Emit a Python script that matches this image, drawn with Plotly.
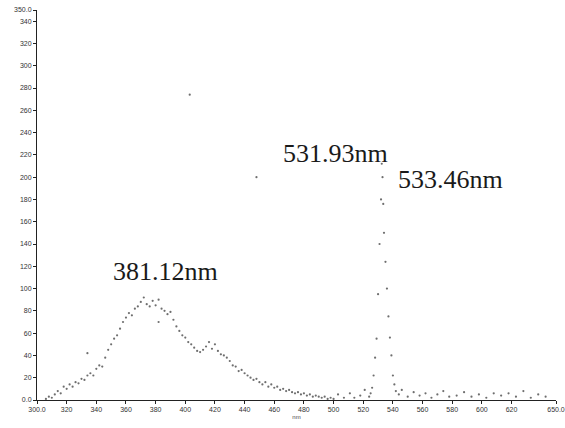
import plotly.graph_objects as go

# Broad emission hump (nm, intensity)
hump_nm = [306, 308, 310, 312, 314, 316, 318, 320, 322, 324, 326, 328, 330, 332, 334, 334, 336, 338,
           340, 342, 344, 346, 348, 350, 352, 354, 356, 358, 360, 362, 364, 366, 368, 370, 372, 374,
           376, 378, 380, 382, 382, 384, 386, 388, 390, 392, 394, 396, 398, 400, 402, 404, 406, 408,
           410, 412, 414, 416, 418, 420, 422, 424, 426, 428, 430, 432, 434, 436, 438, 440, 442, 444,
           446, 448, 450, 452, 454, 456, 458, 460, 462, 464, 466, 468, 470, 472, 474, 476, 478, 480,
           482, 484, 486, 488, 490, 492, 494, 496, 498, 500]
hump_val = [1, 3, 2, 5, 8, 6, 12, 10, 14, 12, 16, 15, 19, 18, 42, 22, 24, 22,
            28, 31, 30, 38, 45, 50, 55, 58, 64, 70, 74, 78, 76, 82, 84, 88, 92, 86,
            84, 89, 85, 90, 70, 82, 80, 77, 79, 72, 66, 62, 58, 56, 52, 50, 47, 44,
            43, 45, 48, 52, 46, 50, 44, 41, 40, 38, 35, 31, 30, 26, 27, 24, 22, 20,
            18, 19, 16, 14, 16, 12, 14, 11, 12, 9, 10, 8, 9, 7, 6, 7, 5, 6,
            4, 5, 3, 4, 3, 2, 3, 1, 2, 1]

# Narrow peak and baseline
peak_nm = [503, 507, 511, 514, 518, 521, 524, 525, 526, 527, 528, 529, 530, 531, 532, 532.5, 533,
           533.5, 534, 535, 536, 537, 538, 539, 540, 541, 542, 544, 546, 550, 554, 558, 562, 566,
           570, 574, 578, 583, 588, 593, 598, 603, 608, 613, 618, 623, 628, 633, 638, 643]
peak_val = [5, 2, 6, 2, 4, 9, 3, 6, 11, 22, 38, 55, 95, 140, 180, 212, 200,
            176, 150, 124, 100, 75, 56, 40, 22, 14, 8, 5, 9, 3, 7, 4, 6, 2,
            5, 8, 3, 4, 7, 3, 5, 2, 6, 4, 6, 3, 8, 2, 5, 3]

# Stray specks
speck_nm = [403, 448]
speck_val = [274, 200]

labels_text = ["381.12nm", "531.93nm", "533.46nm"]
labels_x = [386.5, 501.5, 579]
labels_y = [115, 221, 198]

x_ticks = [300, 320, 340, 360, 380, 400, 420, 440, 460, 480, 500, 520, 540, 560, 580, 600, 620, 650]
x_ticktext = ["300.0"] + [str(v) for v in x_ticks[1:-1]] + ["650.0"]
y_ticks = list(range(0, 341, 20)) + [350]
y_ticktext = ["0.0"] + [str(v) for v in y_ticks[1:-1]] + ["350.0"]

mk = dict(color="#555555", size=2.2, opacity=0.85)
fig = go.Figure()
fig.add_trace(go.Scatter(x=hump_nm, y=hump_val, mode="markers", marker=mk, showlegend=False))
fig.add_trace(go.Scatter(x=peak_nm, y=peak_val, mode="markers", marker=mk, showlegend=False))
fig.add_trace(go.Scatter(x=speck_nm, y=speck_val, mode="markers", marker=mk, showlegend=False))

for t, x, y in zip(labels_text, labels_x, labels_y):
    fig.add_annotation(x=x, y=y, text=t, showarrow=False,
                       font=dict(family="Liberation Serif", size=26, color="#1a1a1a"))

axis_font = dict(family="Liberation Sans", size=7, color="#333")
fig.update_layout(
    width=565, height=428,
    margin=dict(l=37, r=9, t=10, b=28, autoexpand=False),
    paper_bgcolor="white", plot_bgcolor="white",
    xaxis=dict(range=[300, 650], tickvals=x_ticks, ticktext=x_ticktext, showgrid=False,
               zeroline=False, showline=True, linecolor="#222", linewidth=1,
               ticks="outside", ticklen=3, tickcolor="#222", tickfont=axis_font,
               ticklabeloverflow="allow", automargin=False,
               title=dict(text="nm", font=dict(family="Liberation Sans", size=6, color="#444"), standoff=2)),
    yaxis=dict(range=[0, 350], tickvals=y_ticks, ticktext=y_ticktext, showgrid=False,
               zeroline=False, showline=True, linecolor="#222", linewidth=1,
               ticks="outside", ticklen=3, tickcolor="#222", tickfont=axis_font,
               ticklabeloverflow="allow", automargin=False),
)
fig.write_html("out.html", config={"displayModeBar": False},
               post_script=("document.documentElement.style.overflow='hidden';"
                            "document.body.style.margin='0';document.body.style.overflow='hidden';"
                            "document.body.style.height='428px';"))
